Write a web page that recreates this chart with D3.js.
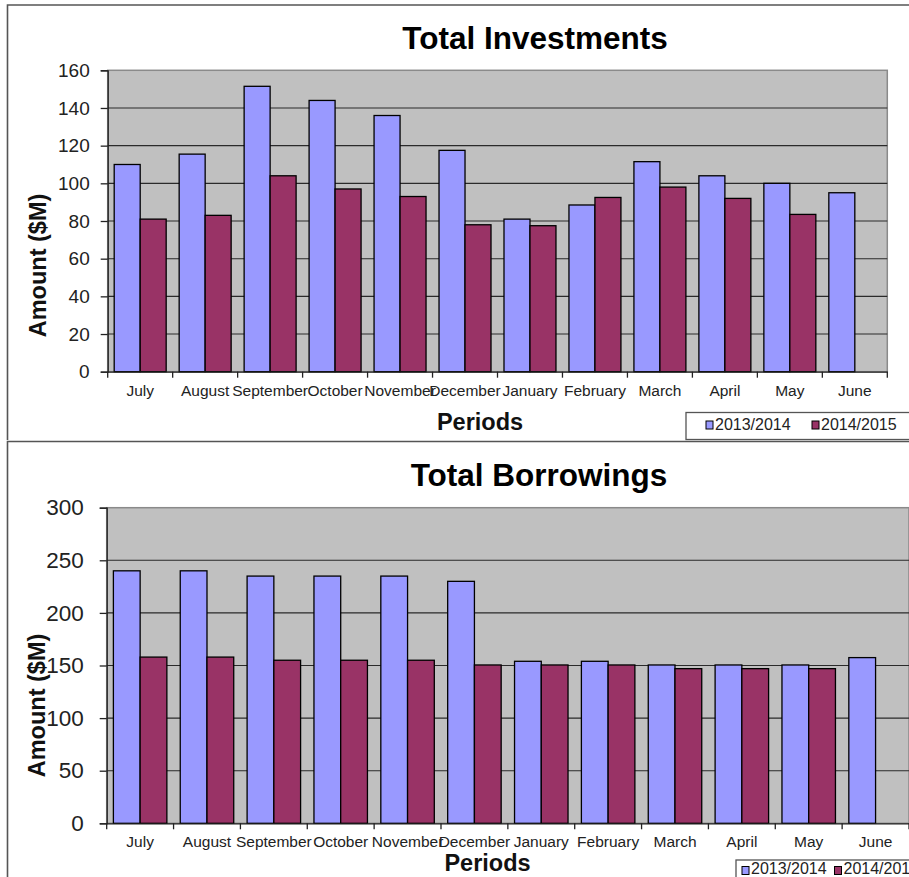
<!DOCTYPE html>
<html>
<head>
<meta charset="utf-8">
<script src="https://cdn.jsdelivr.net/npm/d3@7"></script>
<style>
  html, body { margin: 0; padding: 0; background: #fff; }
  svg { display: block; font-family: "Liberation Sans", Arial, sans-serif; }
</style>
</head>
<body>
<svg id="chart" width="909" height="877"></svg>
<script>
const categories = ["July","August","September","October","November","December","January","February","March","April","May","June"];
const seriesNames = ["2013/2014","2014/2015"];
const seriesColors = ["#9999FF","#993366"];

const investments2013 = [110,115.5,151.5,144,136,117.5,81,88.5,111.5,104,100,95];
const investments2014 = [81,83,104,97,93,78,77.5,92.5,98,92,83.5,null];
const invTicks = [0,20,40,60,80,100,120,140,160];

const borrowings2013 = [240,240,235,235,235,230,154,154,150.5,150.5,150.5,157.5];
const borrowings2014 = [158,158,155,155,155,150.5,150.5,150.5,147,147,147,null];
const borTicks = [0,50,100,150,200,250,300];

const svg = d3.select("#chart");

function drawChart(cfg) {
  const g = svg.append("g");
  g.append("path")
    .attr("d", cfg.framePath)
    .attr("fill", "none").attr("stroke", "#555").attr("stroke-width", 1.6);

  const x = d3.scaleBand().domain(categories).range([cfg.left, cfg.right]).padding(0);
  const bw = x.bandwidth();
  const xs = d3.scaleBand().domain([0,1]).range([0.1*bw, 0.9*bw]).padding(0);
  const y = d3.scaleLinear().domain([0, cfg.max]).range([cfg.bottom, cfg.top]);

  g.append("rect").attr("x", cfg.left).attr("y", cfg.top)
    .attr("width", cfg.right - cfg.left).attr("height", cfg.bottom - cfg.top)
    .attr("fill", "#C0C0C0").attr("stroke", "#8a8a8a").attr("stroke-width", 1.5);

  g.append("g").selectAll("line").data(cfg.ticks.filter(t => t > 0 && t < cfg.max)).join("line")
    .attr("x1", cfg.left).attr("x2", cfg.right)
    .attr("y1", d => y(d)).attr("y2", d => y(d))
    .attr("stroke", "#2a2a2a").attr("stroke-width", 1.1);

  const sets = [cfg.s1, cfg.s2];
  sets.forEach((vals, si) => {
    g.append("g").selectAll("rect")
      .data(categories.map((c, i) => ({c, v: vals[i]})).filter(d => d.v != null))
      .join("rect")
      .attr("x", d => x(d.c) + xs(si))
      .attr("y", d => y(d.v))
      .attr("width", xs.bandwidth())
      .attr("height", d => y(0) - y(d.v))
      .attr("fill", seriesColors[si])
      .attr("stroke", "#000").attr("stroke-width", 1.3);
  });

  const ya = g.append("g").attr("transform", `translate(${cfg.left},0)`)
    .call(d3.axisLeft(y).tickValues(cfg.ticks).tickSize(7).tickPadding(cfg.ytickPad).tickFormat(d3.format("d")));
  ya.select(".domain").attr("stroke", "#222").attr("stroke-width", 1.3);
  ya.selectAll(".tick line").attr("stroke", "#222").attr("stroke-width", 1.3);
  ya.selectAll("text").attr("font-size", cfg.ytickSize).attr("fill", "#222")
    .attr("font-family", "Liberation Sans, Arial, sans-serif");

  const xa = g.append("g").attr("transform", `translate(0,${cfg.bottom})`)
    .call(d3.axisBottom(x).tickSize(0).tickPadding(cfg.xtickPad));
  xa.select(".domain").attr("stroke", "#222").attr("stroke-width", 1.3);
  xa.selectAll("text").attr("font-size", 15.5).attr("fill", "#222")
    .attr("font-family", "Liberation Sans, Arial, sans-serif");
  const bounds = categories.map(c => x(c)).concat([x.range()[1]]);
  g.append("g").selectAll("line").data(bounds).join("line")
    .attr("x1", d => d).attr("x2", d => d)
    .attr("y1", cfg.bottom).attr("y2", cfg.bottom + 6)
    .attr("stroke", "#222").attr("stroke-width", 1.3);

  g.append("text").attr("x", cfg.titleX).attr("y", cfg.titleY)
    .attr("text-anchor", "middle").attr("font-weight", "bold").attr("font-size", 31.5)
    .attr("fill", "#000").text(cfg.title);

  g.append("text").attr("x", cfg.xtitleX).attr("y", cfg.xtitleY)
    .attr("text-anchor", "middle").attr("font-weight", "bold").attr("font-size", 23.5)
    .attr("fill", "#111").text("Periods");

  g.append("text")
    .attr("transform", `translate(${cfg.ytitleX},${cfg.ytitleY}) rotate(-90)`)
    .attr("text-anchor", "middle").attr("font-weight", "bold").attr("font-size", 23.5)
    .attr("fill", "#111").text("Amount ($M)");

  g.append("rect").attr("x", cfg.legX).attr("y", cfg.legY)
    .attr("width", cfg.legW).attr("height", cfg.legH)
    .attr("fill", "#fff").attr("stroke", "#555").attr("stroke-width", 1.3);
  seriesNames.forEach((nm, i) => {
    const lx = cfg.legX + cfg.legPad + i * cfg.legStep;
    g.append("rect").attr("x", lx).attr("y", cfg.legY + cfg.markOff)
      .attr("width", 7).attr("height", 8)
      .attr("fill", seriesColors[i]).attr("stroke", "#000").attr("stroke-width", 1);
    g.append("text").attr("x", lx + 9).attr("y", cfg.legY + cfg.textOff)
      .attr("font-size", 16).attr("fill", "#222").text(nm);
  });
}

drawChart({
  framePath: "M 7.5 440 L 7.5 5 L 912 5",
  left: 107.7, right: 887.3, top: 70.3, bottom: 371.7,
  max: 160, ticks: invTicks, s1: investments2013, s2: investments2014,
  ytickSize: 19, ytickPad: 11, xtickPad: 13,
  title: "Total Investments", titleX: 535, titleY: 49.3,
  xtitleX: 480, xtitleY: 429.5,
  ytitleX: 45.5, ytitleY: 265.5,
  legX: 686, legY: 412.5, legW: 240, legH: 27, legPad: 20, legStep: 106,
  markOff: 8.5, textOff: 17.5
});

drawChart({
  framePath: "M 7.5 880 L 7.5 441.5 L 912 441.5",
  left: 106.7, right: 909, top: 507.7, bottom: 823.3,
  max: 300, ticks: borTicks, s1: borrowings2013, s2: borrowings2014,
  ytickSize: 22.5, ytickPad: 16, xtickPad: 13,
  title: "Total Borrowings", titleX: 539, titleY: 486,
  xtitleX: 487.5, xtitleY: 870.5,
  ytitleX: 45, ytitleY: 705.5,
  legX: 736, legY: 860, legW: 200, legH: 30, legPad: 6, legStep: 92.5,
  markOff: 6.5, textOff: 14
});
</script>
</body>
</html>
